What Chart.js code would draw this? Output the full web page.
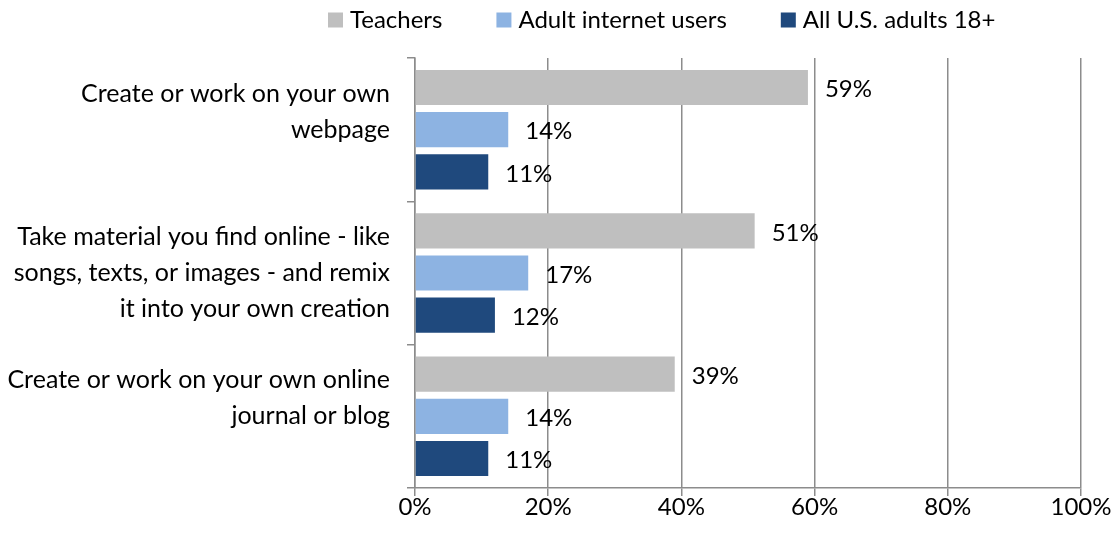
<!DOCTYPE html>
<html>
<head>
<meta charset="utf-8">
<script src="https://cdn.jsdelivr.net/npm/chart.js@4"></script>
<style>
  html, body { margin: 0; padding: 0; background: #fff; }
  #wrap { width: 1115px; height: 535px; position: relative; }
</style>
</head>
<body>
<div id="wrap"><canvas id="c" width="1115" height="535"></canvas></div>
<script>
// ---- data ----
const categories = [
  ["Create or work on your own", "webpage"],
  ["Take material you find online - like", "songs, texts, or images - and remix", "it into your own creation"],
  ["Create or work on your own online", "journal or blog"]
];
const seriesNames = ["Teachers", "Adult internet users", "All U.S. adults 18+"];
const teachers = [59, 51, 39];
const adultInternetUsers = [14, 17, 14];
const allAdults = [11, 12, 11];
const xTicks = [0, 20, 40, 60, 80, 100];

const colors = ["#BFBFBF", "#8DB3E2", "#1F497D"];
const FONT = "Lato, 'Open Sans', sans-serif";
const FS = 24;
const gridColor = "#8C8C8C";

const valueLabels = {
  id: "valueLabels",
  afterDatasetsDraw(chart) {
    const ctx = chart.ctx;
    ctx.save();
    ctx.font = FS + "px " + FONT;
    ctx.fillStyle = "#000";
    ctx.textAlign = "left";
    ctx.textBaseline = "middle";
    chart.data.datasets.forEach((ds, di) => {
      const meta = chart.getDatasetMeta(di);
      meta.data.forEach((bar, i) => {
        ctx.fillText(ds.data[i] + "%", bar.x + 17, bar.y + 2);
      });
    });
    ctx.restore();
  }
};

const customLegend = {
  id: "customLegend",
  afterDraw(chart) {
    const ctx = chart.ctx;
    ctx.save();
    ctx.font = FS + "px " + FONT;
    ctx.textBaseline = "middle";
    ctx.textAlign = "left";
    let x = 328;
    const cy = 20;
    chart.data.datasets.forEach((ds) => {
      ctx.fillStyle = ds.backgroundColor;
      ctx.fillRect(x, cy - 7.5, 15, 15);
      x += 15 + 7;
      ctx.fillStyle = "#000";
      ctx.fillText(ds.label, x, cy);
      x += ctx.measureText(ds.label).width + 54;
    });
    ctx.restore();
  }
};

new Chart(document.getElementById("c"), {
  type: "bar",
  data: {
    labels: categories,
    datasets: [
      { label: seriesNames[0], data: teachers, backgroundColor: colors[0] },
      { label: seriesNames[1], data: adultInternetUsers, backgroundColor: colors[1] },
      { label: seriesNames[2], data: allAdults, backgroundColor: colors[2] }
    ]
  },
  options: {
    indexAxis: "y",
    responsive: false,
    animation: false,
    devicePixelRatio: 1,
    categoryPercentage: 0.883,
    barPercentage: 0.833,
    layout: { padding: { top: 58, right: 34, left: 0, bottom: 0 } },
    plugins: {
      legend: { display: false },
      tooltip: { enabled: false }
    },
    scales: {
      x: {
        min: 0, max: 100,
        afterBuildTicks(scale) { scale.ticks = xTicks.map(v => ({ value: v })); },
        afterFit(scale) { scale.height = 47; scale.paddingLeft = 0; scale.paddingRight = 0; },
        ticks: {
          callback: v => v + "%",
          color: "#000",
          font: { family: FONT, size: FS },
          padding: -3,
          maxRotation: 0
        },
        grid: { color: gridColor, lineWidth: 1.5, tickLength: 8, drawTicks: true },
        border: { color: gridColor, width: 1.5 }
      },
      y: {
        afterFit(scale) { scale.width = 415; scale.paddingTop = 0; scale.paddingBottom = 0; },
        ticks: {
          color: "#000",
          font: { family: FONT, size: 25, lineHeight: 1.44 },
          padding: 17,
          autoSkip: false,
          callback: function (v, i) {
            const lines = categories[i].slice();
            while (lines.length < 3) lines.push("");
            return lines;
          }
        },
        grid: { drawOnChartArea: false, drawTicks: true, tickLength: 8, color: gridColor, lineWidth: 1.5, offset: true },
        border: { color: gridColor, width: 1.5 }
      }
    }
  },
  plugins: [valueLabels, customLegend]
});
</script>
</body>
</html>
